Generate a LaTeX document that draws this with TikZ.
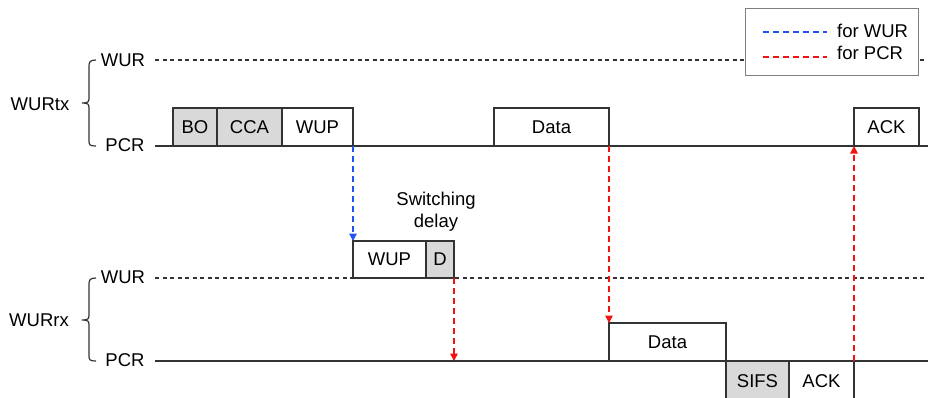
\documentclass[tikz,border=0pt]{standalone}
\usepackage{fontspec}
\setmainfont{Liberation Sans}
\usetikzlibrary{arrows.meta}
\definecolor{ln}{HTML}{333333}
\definecolor{gfill}{HTML}{D9D9D9}
\definecolor{wblue}{HTML}{2352F0}
\definecolor{pred}{HTML}{F21212}
\begin{document}
\begin{tikzpicture}[x=1pt,y=-1pt,
  font=\fontsize{18.5}{22}\selectfont,
  box/.style={draw=ln,line width=1.3pt,fill=white,outer sep=0pt,inner sep=0pt,anchor=south west},
  gbox/.style={box,fill=gfill},
  lbl/.style={inner sep=0pt},
  solidline/.style={draw=ln,line width=1.3pt},
  dashline/.style={draw=ln,line width=1.1pt,dash pattern=on 4pt off 3.5pt},
  wurarrow/.style={draw=wblue,line width=1.5pt,dash pattern=on 6pt off 4pt,-{Triangle[width=7.5pt,length=7.5pt]}},
  pcrarrow/.style={draw=pred,line width=1.5pt,dash pattern=on 6pt off 4pt,-{Triangle[width=7.5pt,length=7.5pt]}},
  bracestyle/.style={draw=ln,line width=1.2pt}
]
\useasboundingbox (0,0) rectangle (928,397);
\clip (0,0) rectangle (928,397);

% ---------- WURtx ----------
\node[lbl] (txwur) at (123,60) {WUR};
\node[lbl] (txpcr) at (125,145) {PCR};
\node[lbl] (txname) at (40,104) {WURtx};
\coordinate (txwurA) at (155,60);
\coordinate (txwurB) at (928,60);
\coordinate (txpcrA) at (155,146);
\coordinate (txpcrB) at (928,146);
\draw[dashline] (txwurA) -- (txwurB);
\draw[solidline] (txpcrA) -- (txpcrB);
\draw[bracestyle] (96,60) .. controls (90,60) and (89,62) .. (89,66) -- (89,98)
  .. controls (89,102) and (88,103) .. (82,103)
  .. controls (88,103) and (89,104) .. (89,108) -- (89,141)
  .. controls (89,145) and (90,146) .. (96,146);

\node[gbox,minimum width=44,minimum height=38] (bo) at (173,146) {BO};
\node[gbox,minimum width=65,minimum height=38] (cca) at (217,146) {CCA};
\node[box,minimum width=71,minimum height=38] (wuptx) at (282,146) {WUP};
\node[box,minimum width=115,minimum height=38] (datatx) at (494,146) {Data};
\node[box,minimum width=65,minimum height=38] (acktx) at (854,146) {ACK};

% ---------- WURrx ----------
\node[lbl] (rxwur) at (123,277) {WUR};
\node[lbl] (rxpcr) at (125,360) {PCR};
\node[lbl] (rxname) at (39,320) {WURrx};
\coordinate (rxwurA) at (155,278);
\coordinate (rxwurB) at (928,278);
\coordinate (rxpcrA) at (155,361);
\coordinate (rxpcrB) at (928,361);
\draw[dashline] (rxwurA) -- (rxwurB);
\draw[solidline] (rxpcrA) -- (rxpcrB);
\draw[bracestyle] (96,278) .. controls (90,278) and (89,280) .. (89,284) -- (89,315)
  .. controls (89,319) and (88,320) .. (82,320)
  .. controls (88,320) and (89,321) .. (89,325) -- (89,356)
  .. controls (89,360) and (90,361) .. (96,361);

\node[box,minimum width=73,minimum height=37] (wuprx) at (353,278) {WUP};
\node[gbox,minimum width=28,minimum height=37] (d) at (426,278) {D};
\node[lbl,align=center,font=\fontsize{18.5}{22}\selectfont] (sw) at (436,212) {Switching\\delay};
\node[box,minimum width=117,minimum height=38] (datarx) at (609,361) {Data};
\node[gbox,minimum width=63,minimum height=40,anchor=north west] (sifs) at (726,361) {SIFS};
\node[box,minimum width=65,minimum height=40,anchor=north west] (ackrx) at (789,361) {ACK};
\coordinate (dend) at (454,361);

% ---------- arrows ----------
\draw[wurarrow] (wuptx.south east) -- (wuprx.north west);
\draw[pcrarrow] (d.south east) -- (dend);
\draw[pcrarrow] (datatx.south east) -- (datarx.north west);
\draw[pcrarrow] (ackrx.north east) -- (acktx.south west);

% ---------- legend ----------
\node[draw=gray,line width=1.8pt,fill=white,minimum width=173,minimum height=67,inner sep=0pt] (legend) at (832,42) {};
\coordinate (lwA) at (763,32);
\coordinate (lwB) at (827,32);
\coordinate (lpA) at (763,57);
\coordinate (lpB) at (827,57);
\draw[draw=wblue,line width=1.5pt,dash pattern=on 6pt off 4pt] (lwA) -- (lwB);
\draw[draw=pred,line width=1.5pt,dash pattern=on 6pt off 4pt] (lpA) -- (lpB);
\node[lbl,anchor=west] (lwt) at (837,31) {for WUR};
\node[lbl,anchor=west] (lpt) at (837,53) {for PCR};
\end{tikzpicture}
\end{document}
